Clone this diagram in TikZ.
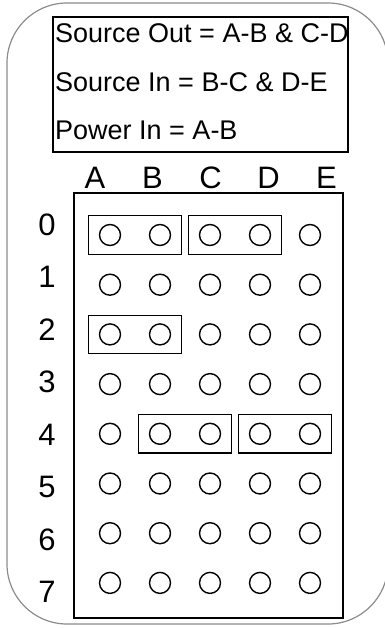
\documentclass[tikz,border=0pt]{standalone}
\usepackage{fontspec}
\setmainfont{Liberation Sans}
\usetikzlibrary{positioning, fit}

\begin{document}
\begin{tikzpicture}[
    x=1pt, y=-1pt,
    case/.style={draw=black!45, line width=1.2pt, rounded corners=60pt},
    legendbox/.style={draw, line width=1.2pt, minimum width=295pt, minimum height=135pt, inner sep=0pt},
    board/.style={draw, line width=1.2pt, minimum width=269pt, minimum height=425pt, inner sep=0pt},
    label/.style={font=\fontsize{27}{30}\selectfont, inner sep=0pt},
    pinname/.style={font=\fontsize{31}{34}\selectfont, inner sep=0pt, anchor=base},
    hole/.style={draw, circle, line width=1.4pt, minimum size=21pt, inner sep=0pt},
    jumper/.style={draw, line width=1.2pt, inner xsep=10pt, inner ysep=8pt}
]
    \useasboundingbox (0,0) rectangle (384,628);
    \draw[case] (7,3) rectangle (388,624);

    % settings legend
    \node[legendbox] (legend) at (200.5,84.5) {};
    \node[label, anchor=base west] (out) at (55,43) {Source Out = A-B \& C-D};
    \node[label, anchor=base west] (in) at (55,92) {Source In = B-C \& D-E};
    \node[label, anchor=base west] (power) at (55,140) {Power In = A-B};

    % header board
    \node[board] (board) at (208.5,405.5) {};
    \foreach \col/\lx [count=\i from 0] in {A/95, B/152.5, C/210.5, D/268.5, E/326.5} {
        \node[pinname] (col-\col) at (\lx,189) {\col};
        \foreach \row in {0,...,7} {
            \node[hole] (h-\row-\col) at (110+50*\i, 235+49.7*\row) {};
        }
    }
    \foreach \row in {0,...,7} {
        \node[pinname] (row-\row) at (47, 235+52.57*\row) {\row};
    }

    % jumpers
    \node[jumper, fit=(h-0-A)(h-0-B)] (j-out1) {};
    \node[jumper, fit=(h-0-C)(h-0-D)] (j-out2) {};
    \node[jumper, fit=(h-2-A)(h-2-B)] (j-power) {};
    \node[jumper, fit=(h-4-B)(h-4-C)] (j-in1) {};
    \node[jumper, fit=(h-4-D)(h-4-E)] (j-in2) {};
\end{tikzpicture}
\end{document}
